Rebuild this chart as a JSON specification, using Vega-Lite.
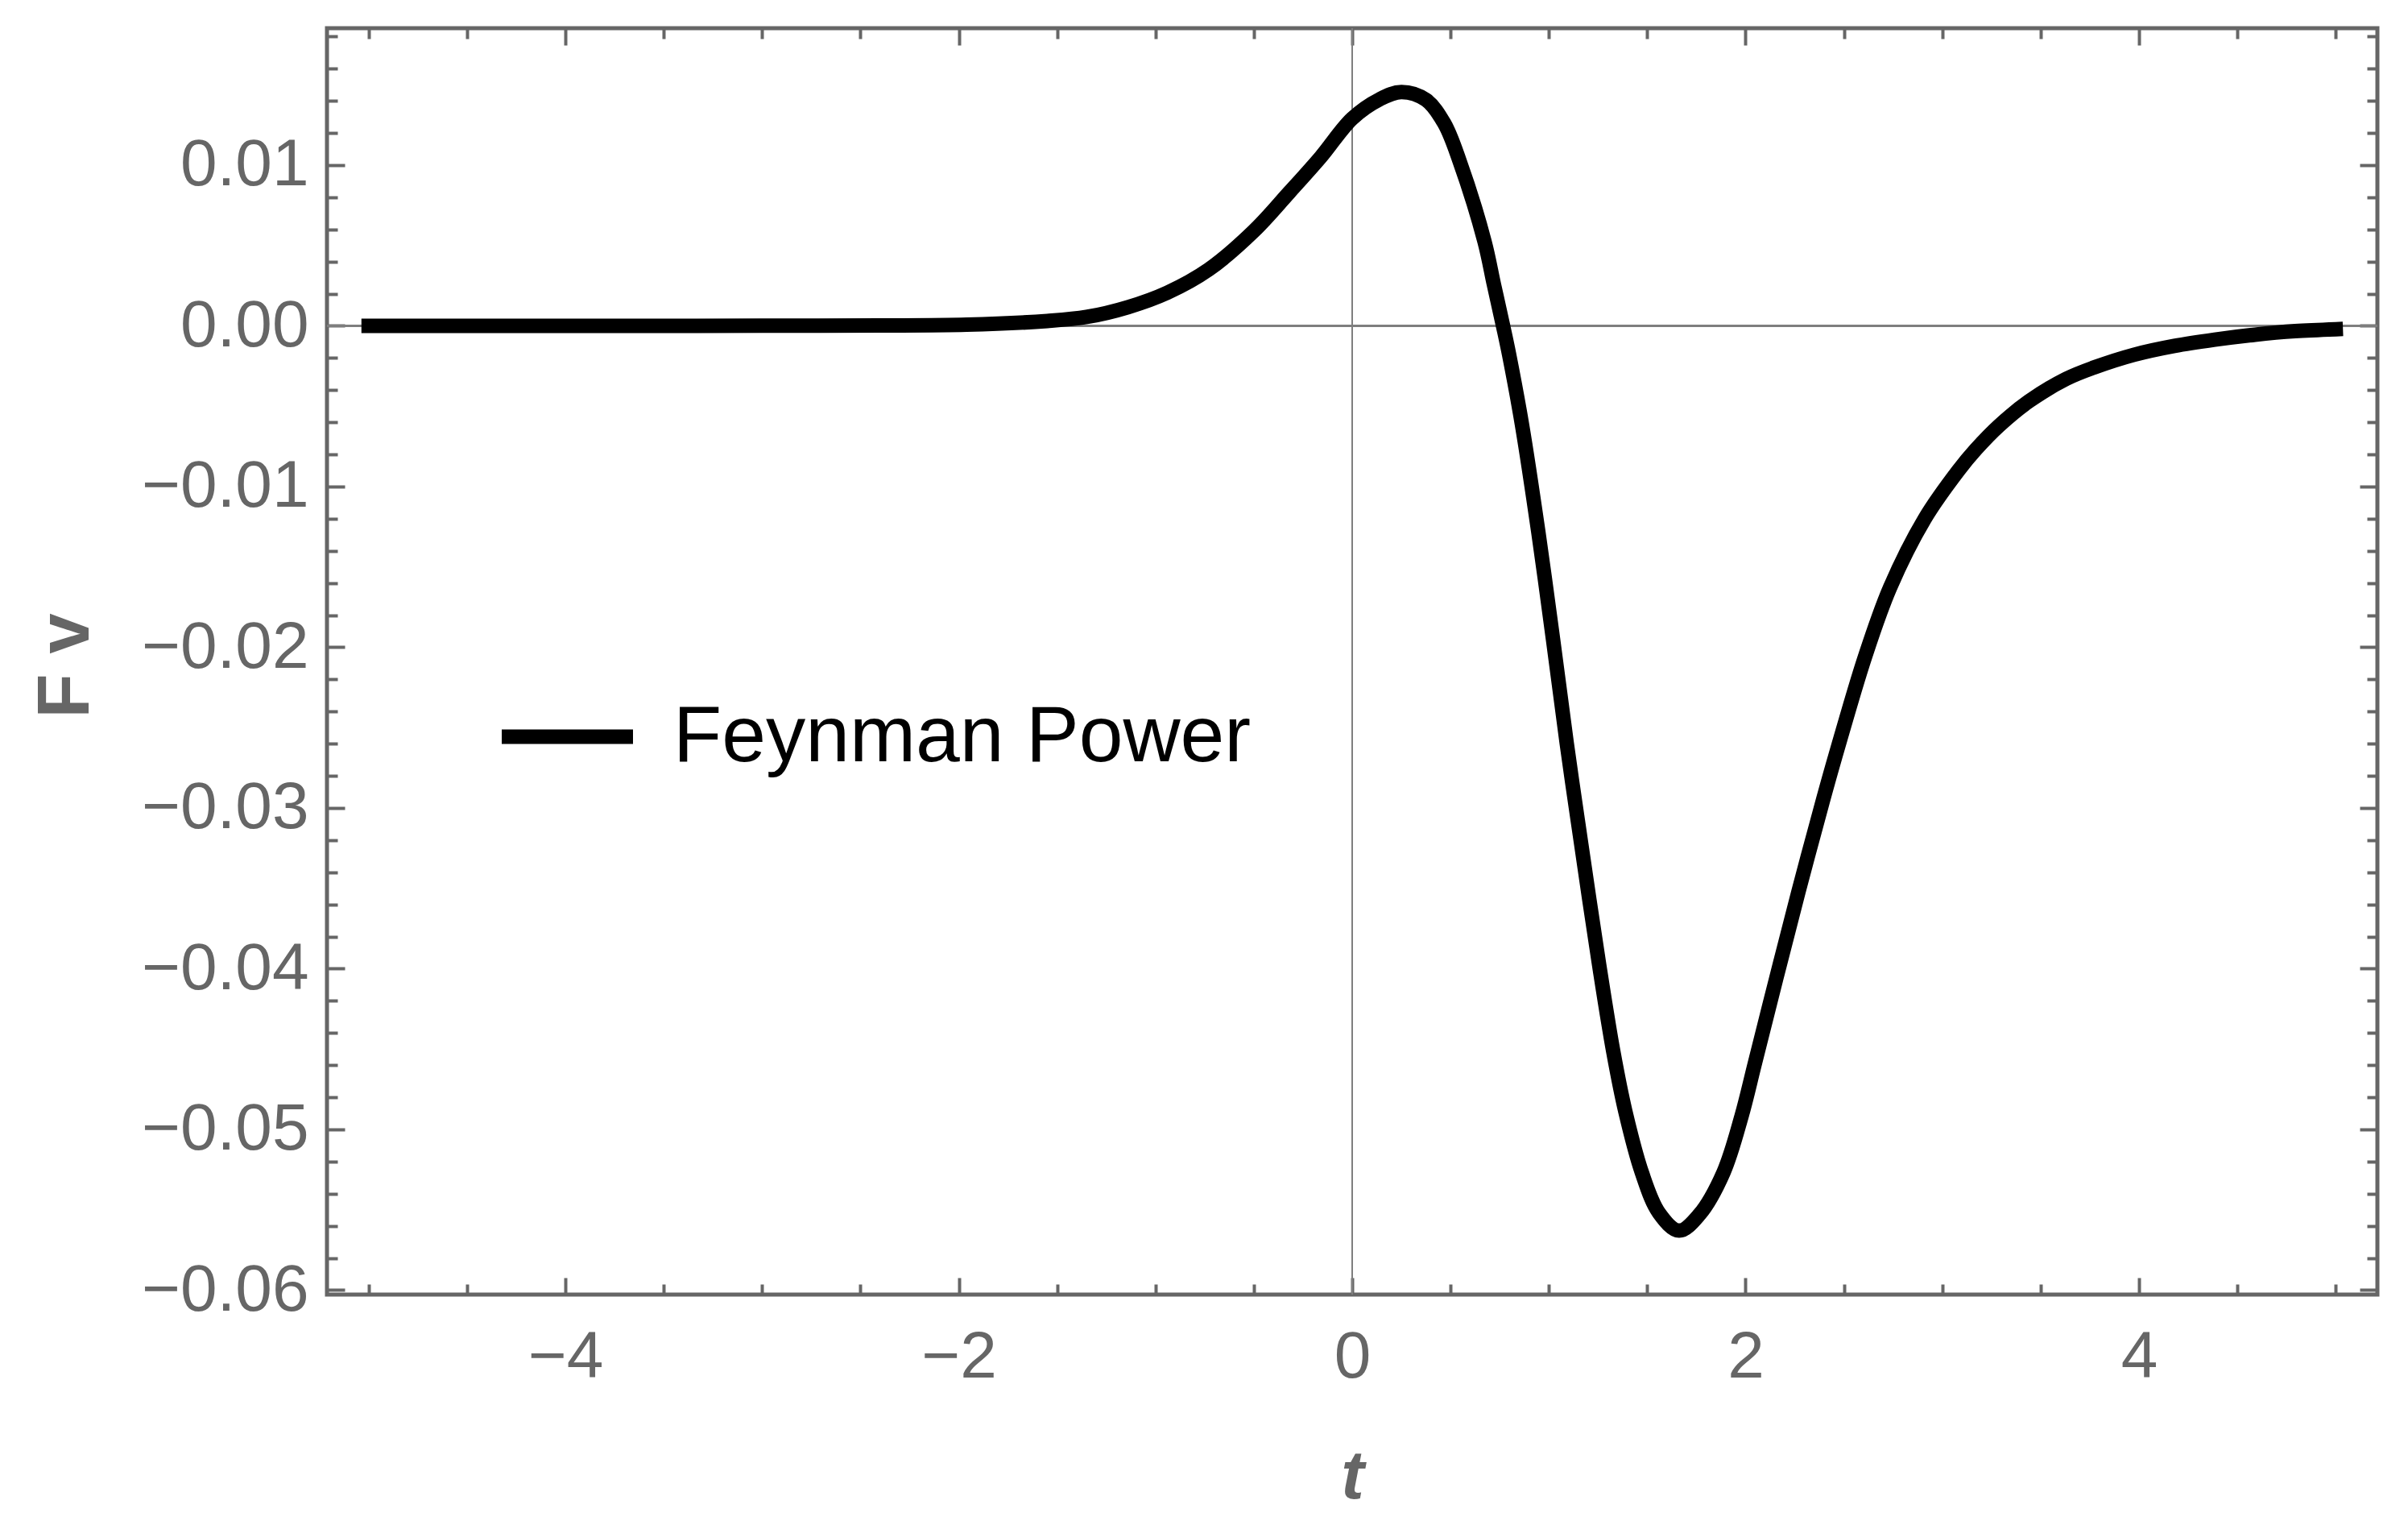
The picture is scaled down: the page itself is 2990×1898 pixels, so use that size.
{
  "$schema": "https://vega.github.io/schema/vega-lite/v6.json",
  "width": 2546,
  "height": 1572,
  "autosize": {"type": "none"},
  "padding": {"left": 406, "top": 35, "right": 38, "bottom": 291},
  "background": "white",
  "config": {
    "view": {"stroke": "#666666", "strokeWidth": 5},
    "font": "Liberation Sans",
    "axis": {
      "grid": false,
      "domain": false,
      "tickColor": "#666666",
      "tickWidth": 4,
      "labelColor": "#666666",
      "labelFont": "Liberation Sans",
      "labelLimit": 1000,
      "titleColor": "#666666",
      "titleFont": "Liberation Sans"
    }
  },
  "datasets": {
    "curve": [
      {"t": -5, "v": 0, "series": "Feynman Power"},
      {"t": -4.5, "v": 0, "series": "Feynman Power"},
      {"t": -4, "v": 0, "series": "Feynman Power"},
      {"t": -3.5, "v": 0, "series": "Feynman Power"},
      {"t": -3, "v": 0.00001, "series": "Feynman Power"},
      {"t": -2.4, "v": 0.00002, "series": "Feynman Power"},
      {"t": -1.96, "v": 0.00007, "series": "Feynman Power"},
      {"t": -1.55, "v": 0.0003, "series": "Feynman Power"},
      {"t": -1.35, "v": 0.00055, "series": "Feynman Power"},
      {"t": -1.14, "v": 0.00116, "series": "Feynman Power"},
      {"t": -0.94, "v": 0.00206, "series": "Feynman Power"},
      {"t": -0.73, "v": 0.0035, "series": "Feynman Power"},
      {"t": -0.5, "v": 0.0059, "series": "Feynman Power"},
      {"t": -0.32, "v": 0.0083, "series": "Feynman Power"},
      {"t": -0.16, "v": 0.0105, "series": "Feynman Power"},
      {"t": 0, "v": 0.0129, "series": "Feynman Power"},
      {"t": 0.14, "v": 0.0141, "series": "Feynman Power"},
      {"t": 0.25, "v": 0.01455, "series": "Feynman Power"},
      {"t": 0.375, "v": 0.01406, "series": "Feynman Power"},
      {"t": 0.468, "v": 0.0126, "series": "Feynman Power"},
      {"t": 0.546, "v": 0.01025, "series": "Feynman Power"},
      {"t": 0.673, "v": 0.00524, "series": "Feynman Power"},
      {"t": 0.72, "v": 0.0026, "series": "Feynman Power"},
      {"t": 0.767, "v": 0, "series": "Feynman Power"},
      {"t": 0.798, "v": -0.0018, "series": "Feynman Power"},
      {"t": 0.864, "v": -0.0062, "series": "Feynman Power"},
      {"t": 0.946, "v": -0.0128, "series": "Feynman Power"},
      {"t": 1.021, "v": -0.0195, "series": "Feynman Power"},
      {"t": 1.091, "v": -0.026, "series": "Feynman Power"},
      {"t": 1.165, "v": -0.0323, "series": "Feynman Power"},
      {"t": 1.256, "v": -0.0398, "series": "Feynman Power"},
      {"t": 1.328, "v": -0.0452, "series": "Feynman Power"},
      {"t": 1.389, "v": -0.0489, "series": "Feynman Power"},
      {"t": 1.473, "v": -0.0527, "series": "Feynman Power"},
      {"t": 1.56, "v": -0.0552, "series": "Feynman Power"},
      {"t": 1.662, "v": -0.0563, "series": "Feynman Power"},
      {"t": 1.765, "v": -0.0553, "series": "Feynman Power"},
      {"t": 1.887, "v": -0.0527, "series": "Feynman Power"},
      {"t": 1.979, "v": -0.0492, "series": "Feynman Power"},
      {"t": 2.047, "v": -0.0459, "series": "Feynman Power"},
      {"t": 2.156, "v": -0.0406, "series": "Feynman Power"},
      {"t": 2.269, "v": -0.0352, "series": "Feynman Power"},
      {"t": 2.394, "v": -0.0295, "series": "Feynman Power"},
      {"t": 2.463, "v": -0.0265, "series": "Feynman Power"},
      {"t": 2.607, "v": -0.0206, "series": "Feynman Power"},
      {"t": 2.734, "v": -0.0163, "series": "Feynman Power"},
      {"t": 2.911, "v": -0.012, "series": "Feynman Power"},
      {"t": 3.082, "v": -0.009, "series": "Feynman Power"},
      {"t": 3.17, "v": -0.0077, "series": "Feynman Power"},
      {"t": 3.29, "v": -0.0062, "series": "Feynman Power"},
      {"t": 3.44, "v": -0.0047, "series": "Feynman Power"},
      {"t": 3.63, "v": -0.0033, "series": "Feynman Power"},
      {"t": 3.77, "v": -0.0026, "series": "Feynman Power"},
      {"t": 3.975, "v": -0.0018, "series": "Feynman Power"},
      {"t": 4.18, "v": -0.00125, "series": "Feynman Power"},
      {"t": 4.385, "v": -0.00086, "series": "Feynman Power"},
      {"t": 4.59, "v": -0.00055, "series": "Feynman Power"},
      {"t": 4.794, "v": -0.00033, "series": "Feynman Power"},
      {"t": 5, "v": -0.00021, "series": "Feynman Power"}
    ]
  },
  "data": {"name": "curve"},
  "resolve": {"axis": {"x": "independent", "y": "independent"}},
  "layer": [
    {
      "mark": {"type": "rule", "color": "#7f7f7f", "strokeWidth": 2},
      "encoding": {
        "y": {"datum": 0, "type": "quantitative", "scale": {"domain": [-0.06028, 0.01852], "nice": false, "zero": false}, "axis": null}
      }
    },
    {
      "mark": {"type": "rule", "color": "#7f7f7f", "strokeWidth": 2},
      "encoding": {
        "x": {"datum": 0, "type": "quantitative", "scale": {"domain": [-5.212, 5.212], "nice": false, "zero": false}, "axis": null}
      }
    },
    {
      "mark": {"type": "line", "strokeWidth": 18, "interpolate": "catmull-rom", "strokeCap": "square"},
      "encoding": {
        "x": {
          "field": "t", "type": "quantitative",
          "scale": {"domain": [-5.212, 5.212], "nice": false, "zero": false},
          "axis": {
            "orient": "bottom", "values": [-4, -2, 0, 2, 4], "format": "d",
            "tickSize": -21, "labelFontSize": 82, "labelPadding": 58,
            "title": "t", "titleFontSize": 86, "titleFontStyle": "italic", "titleFontWeight": "bold",
            "titleX": 1273, "titleY": 252, "titleBaseline": "alphabetic", "titleAlign": "center"
          }
        },
        "y": {
          "field": "v", "type": "quantitative",
          "scale": {"domain": [-0.06028, 0.01852], "nice": false, "zero": false},
          "axis": {
            "orient": "left", "values": [-0.06, -0.05, -0.04, -0.03, -0.02, -0.01, 0, 0.01], "format": ".2f",
            "tickSize": -22, "labelFontSize": 82, "labelPadding": 45,
            "title": "F v", "titleFontSize": 90, "titleFontWeight": "bold", "titleAngle": 270,
            "titleX": -297, "titleY": 791, "titleBaseline": "alphabetic", "titleAlign": "center"
          }
        },
        "color": {
          "field": "series", "type": "nominal",
          "scale": {"range": ["#000000"]},
          "legend": {
            "orient": "none", "legendX": 208, "legendY": 789, "title": null,
            "symbolType": "stroke", "symbolSize": 26569, "symbolStrokeWidth": 18,
            "labelFontSize": 98.5, "labelColor": "#000000", "labelFont": "Liberation Sans",
            "labelOffset": 41, "labelLimit": 2000, "padding": 0
          }
        }
      }
    },
    {
      "mark": {"type": "line", "opacity": 0},
      "encoding": {
        "x": {
          "field": "t", "type": "quantitative",
          "scale": {"domain": [-5.212, 5.212], "nice": false, "zero": false},
          "axis": {"orient": "bottom", "values": [-5, -4.5, -3.5, -3, -2.5, -1.5, -1, -0.5, 0.5, 1, 1.5, 2.5, 3, 3.5, 4.5, 5], "tickSize": -13, "labels": false, "title": null}
        },
        "y": {
          "field": "v", "type": "quantitative",
          "scale": {"domain": [-0.06028, 0.01852], "nice": false, "zero": false},
          "axis": {"orient": "left", "values": [-0.058, -0.056, -0.054, -0.052, -0.048, -0.046, -0.044, -0.042, -0.038, -0.036, -0.034, -0.032, -0.028, -0.026, -0.024, -0.022, -0.018, -0.016, -0.014, -0.012, -0.008, -0.006, -0.004, -0.002, 0.002, 0.004, 0.006, 0.008, 0.012, 0.014, 0.016, 0.018], "tickSize": -13, "labels": false, "title": null}
        }
      }
    },
    {
      "mark": {"type": "line", "opacity": 0},
      "encoding": {
        "x": {
          "field": "t", "type": "quantitative",
          "scale": {"domain": [-5.212, 5.212], "nice": false, "zero": false},
          "axis": {"orient": "top", "values": [-4, -2, 0, 2, 4], "tickSize": -21, "labels": false, "title": null}
        },
        "y": {
          "field": "v", "type": "quantitative",
          "scale": {"domain": [-0.06028, 0.01852], "nice": false, "zero": false},
          "axis": {"orient": "right", "values": [-0.06, -0.05, -0.04, -0.03, -0.02, -0.01, 0, 0.01], "tickSize": -22, "labels": false, "title": null}
        }
      }
    },
    {
      "mark": {"type": "line", "opacity": 0},
      "encoding": {
        "x": {
          "field": "t", "type": "quantitative",
          "scale": {"domain": [-5.212, 5.212], "nice": false, "zero": false},
          "axis": {"orient": "top", "values": [-5, -4.5, -3.5, -3, -2.5, -1.5, -1, -0.5, 0.5, 1, 1.5, 2.5, 3, 3.5, 4.5, 5], "tickSize": -13, "labels": false, "title": null}
        },
        "y": {
          "field": "v", "type": "quantitative",
          "scale": {"domain": [-0.06028, 0.01852], "nice": false, "zero": false},
          "axis": {"orient": "right", "values": [-0.058, -0.056, -0.054, -0.052, -0.048, -0.046, -0.044, -0.042, -0.038, -0.036, -0.034, -0.032, -0.028, -0.026, -0.024, -0.022, -0.018, -0.016, -0.014, -0.012, -0.008, -0.006, -0.004, -0.002, 0.002, 0.004, 0.006, 0.008, 0.012, 0.014, 0.016, 0.018], "tickSize": -13, "labels": false, "title": null}
        }
      }
    }
  ]
}
